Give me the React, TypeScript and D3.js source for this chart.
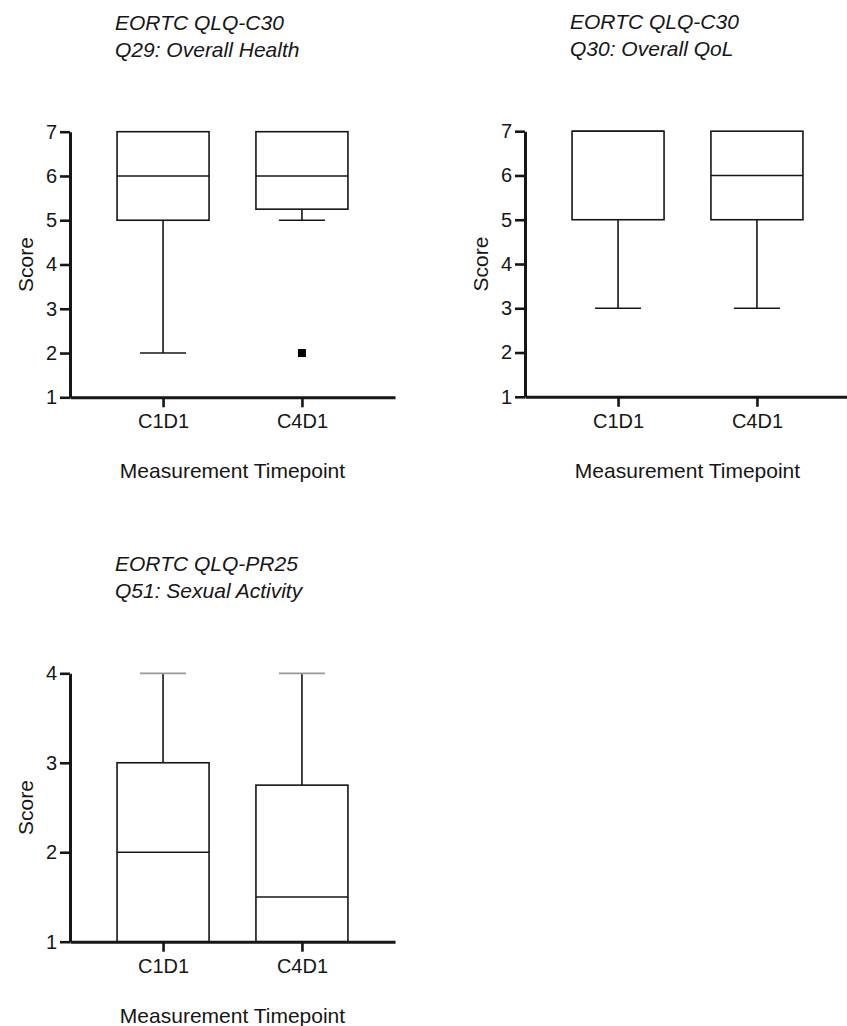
import React, { useEffect, useRef } from 'react';
import * as d3 from 'd3';

// box statistics, one entry per timepoint
const timepoints = ['C1D1', 'C4D1'];

const healthStats = [
	{ min: 2, q1: 5, median: 6, q3: 7, max: 7 },
	{ min: 5, q1: 5.25, median: 6, q3: 7, max: 7 },
];
const healthOutliers = [[], [2]];

const qolStats = [
	{ min: 3, q1: 5, median: 7, q3: 7, max: 7 },
	{ min: 3, q1: 5, median: 6, q3: 7, max: 7 },
];
const qolOutliers = [[], []];

const sexualStats = [
	{ min: 1, q1: 1, median: 2, q3: 3, max: 4 },
	{ min: 1, q1: 1, median: 1.5, q3: 2.75, max: 4 },
];
const sexualOutliers = [[], []];

const ticks7 = [1, 2, 3, 4, 5, 6, 7];
const ticks4 = [1, 2, 3, 4];

const width = 847;
const height = 1026;
const font = '"Liberation Sans", Arial, Helvetica, sans-serif';
const ink = '#161616';

const panels = [
	{ left: 70, top: 131.7, bottom: 397.3, domain: [1, 7], ticks: ticks7, stats: healthStats, outliers: healthOutliers, title: ['EORTC QLQ-C30', 'Q29: Overall Health'], capColor: ink },
	{ left: 525, top: 131.2, bottom: 396.8, domain: [1, 7], ticks: ticks7, stats: qolStats, outliers: qolOutliers, title: ['EORTC QLQ-C30', 'Q30: Overall QoL'], capColor: ink },
	{ left: 70, top: 673.3, bottom: 941.7, domain: [1, 4], ticks: ticks4, stats: sexualStats, outliers: sexualOutliers, title: ['EORTC QLQ-PR25', 'Q51: Sexual Activity'], capColor: '#999' },
];

const App = () => {
	const ref = useRef(null);

	useEffect(() => {
		document.body.style.margin = '0';
		const svg = d3.select(ref.current);
		svg.selectAll('*').remove();

		const axisW = 325;
		const boxW = 92;
		const capW = 46;
		const lw = 1.6;

		panels.forEach(p => {
			const g = svg.append('g');
			const y = d3.scaleLinear().domain(p.domain).range([p.bottom, p.top]);
			const x = d3.scalePoint().domain(timepoints).range([p.left, p.left + axisW]).padding(0.67);

			// titles
			const t = g.append('text')
				.attr('font-family', font)
				.attr('font-style', 'italic')
				.attr('font-size', 21)
				.attr('fill', ink);
			t.append('tspan').attr('x', p.left + 45).attr('y', p.top - 102).text(p.title[0]);
			t.append('tspan').attr('x', p.left + 45).attr('y', p.top - 75).text(p.title[1]);

			// whiskers
			p.stats.forEach((s, i) => {
				const cx = x(timepoints[i]);
				if (s.max > s.q3) {
					g.append('line').attr('x1', cx).attr('x2', cx).attr('y1', y(s.q3)).attr('y2', y(s.max))
						.attr('stroke', ink).attr('stroke-width', lw);
					g.append('line').attr('x1', cx - capW / 2).attr('x2', cx + capW / 2).attr('y1', y(s.max)).attr('y2', y(s.max))
						.attr('stroke', p.capColor).attr('stroke-width', 1.8);
				}
				if (s.min < s.q1) {
					g.append('line').attr('x1', cx).attr('x2', cx).attr('y1', y(s.q1)).attr('y2', y(s.min))
						.attr('stroke', ink).attr('stroke-width', lw);
					g.append('line').attr('x1', cx - capW / 2).attr('x2', cx + capW / 2).attr('y1', y(s.min)).attr('y2', y(s.min))
						.attr('stroke', ink).attr('stroke-width', lw);
				}
			});

			// boxes
			g.selectAll('.box')
				.data(p.stats)
				.join('rect')
				.attr('class', 'box')
				.attr('x', (d, i) => x(timepoints[i]) - boxW / 2)
				.attr('y', d => y(d.q3))
				.attr('width', boxW)
				.attr('height', d => y(d.q1) - y(d.q3))
				.attr('fill', 'none')
				.attr('stroke', ink)
				.attr('stroke-width', lw);

			g.selectAll('.median')
				.data(p.stats)
				.join('line')
				.attr('class', 'median')
				.attr('x1', (d, i) => x(timepoints[i]) - boxW / 2)
				.attr('x2', (d, i) => x(timepoints[i]) + boxW / 2)
				.attr('y1', d => y(d.median))
				.attr('y2', d => y(d.median))
				.attr('stroke', ink)
				.attr('stroke-width', lw);

			// outliers
			p.outliers.forEach((arr, i) => {
				arr.forEach(v => {
					g.append('rect')
						.attr('x', x(timepoints[i]) - 4)
						.attr('y', y(v) - 4)
						.attr('width', 8)
						.attr('height', 8)
						.attr('fill', '#000');
				});
			});

			// axes
			const yAxis = g.append('g')
				.attr('transform', `translate(${p.left},0)`)
				.call(d3.axisLeft(y).tickValues(p.ticks).tickFormat(d3.format('d')).tickSize(10).tickSizeOuter(0).tickPadding(3));
			const xAxis = g.append('g')
				.attr('transform', `translate(0,${p.bottom})`)
				.call(d3.axisBottom(x).tickSize(10).tickSizeOuter(0).tickPadding(7));

			[yAxis, xAxis].forEach(a => {
				a.select('.domain').attr('stroke', ink).attr('stroke-width', 3);
				a.selectAll('.tick line').attr('stroke', ink).attr('stroke-width', 2.6);
				a.selectAll('.tick text').attr('fill', ink).attr('font-size', 20).attr('font-family', font);
			});

			// axis titles
			g.append('text')
				.attr('transform', `translate(${p.left - 37},${(p.top + p.bottom) / 2}) rotate(-90)`)
				.attr('text-anchor', 'middle')
				.attr('font-family', font)
				.attr('font-size', 21)
				.attr('fill', ink)
				.text('Score');

			g.append('text')
				.attr('x', p.left + axisW / 2)
				.attr('y', p.bottom + 81)
				.attr('text-anchor', 'middle')
				.attr('font-family', font)
				.attr('font-size', 21)
				.attr('fill', ink)
				.text('Measurement Timepoint');
		});
	}, []);

	return <svg ref={ref} width={width} height={height} style={{ display: 'block', background: '#fff' }} />;
};

export default App;
